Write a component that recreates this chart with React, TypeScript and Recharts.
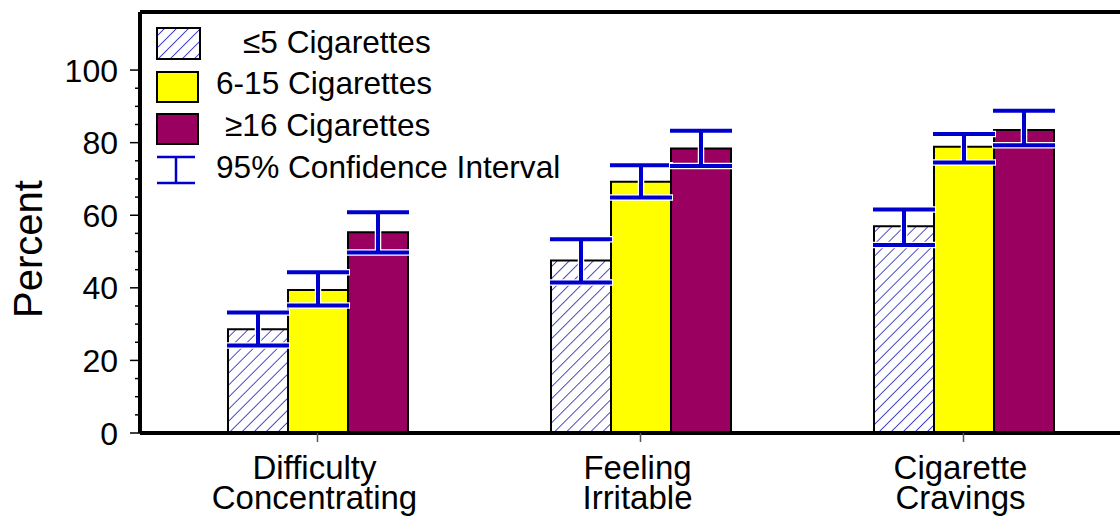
import { BarChart, Bar, XAxis, YAxis, ErrorBar, ReferenceLine, Legend } from 'recharts';

const categories = ['Difficulty Concentrating', 'Feeling Irritable', 'Cigarette Cravings'];
const seriesNames = ['≤5 Cigarettes', '6-15 Cigarettes', '≥16 Cigarettes'];

// percent values per group
const light = [28.6, 47.5, 57.0];
const medium = [39.4, 69.2, 78.9];
const heavy = [55.3, 78.4, 83.5];

// 95% confidence interval bounds
const lightLow = [24.1, 41.5, 51.8];
const lightHigh = [33.2, 53.4, 61.6];
const mediumLow = [35.1, 64.9, 74.5];
const mediumHigh = [44.3, 73.8, 82.4];
const heavyLow = [49.7, 73.6, 79.3];
const heavyHigh = [60.8, 83.3, 88.8];

const yTicks = [0, 5, 10, 15, 20, 25, 30, 35, 40, 45, 50, 55, 60, 65, 70, 75, 80, 85, 90, 95, 100];
const yLabels = [0, 20, 40, 60, 80, 100];

const COLORS = ['url(#hatch)', '#FFFF00', '#990060'];
const CI_BLUE = '#0000CC';
const FONT = '"Liberation Sans", Arial, sans-serif';

const data = categories.map((name, i) => ({
  name,
  light: light[i],
  medium: medium[i],
  heavy: heavy[i],
  lightErr: [light[i] - lightLow[i], lightHigh[i] - light[i]],
  mediumErr: [medium[i] - mediumLow[i], mediumHigh[i] - medium[i]],
  heavyErr: [heavy[i] - heavyLow[i], heavyHigh[i] - heavy[i]],
}));

const YTick = (props: any) => {
  const { x, y, payload } = props;
  const axisX = x + 14;
  const major = yLabels.includes(payload.value);
  return (
    <g>
      <line x1={axisX - (major ? 10 : 5)} x2={axisX} y1={y} y2={y} stroke="#000" strokeWidth={1.5} />
      {major && (
        <text x={axisX - 22} y={y} dy="0.36em" textAnchor="end" fontSize={32} fontFamily={FONT} fill="#000">
          {payload.value}
        </text>
      )}
    </g>
  );
};

const XTick = (props: any) => {
  const { x, y, payload } = props;
  const words = String(payload.value).split(' ');
  return (
    <text x={x - 3} y={y} textAnchor="middle" fontSize={33} fontFamily={FONT} fill="#000">
      <tspan x={x - 3} dy={35}>{words[0]}</tspan>
      <tspan x={x - 3} dy={30}>{words[1]}</tspan>
    </text>
  );
};

const LegendBox = () => (
  <svg width={600} height={200} style={{ display: 'block' }}>
    <rect x={157} y={28} width={43} height={31} fill="url(#hatch)" stroke="#000" strokeWidth={2} />
    <rect x={157} y={72} width={41} height={30} fill={COLORS[1]} stroke="#000" strokeWidth={2} />
    <rect x={157} y={114} width={41} height={30} fill={COLORS[2]} stroke="#000" strokeWidth={2} />
    <line x1={157} x2={195} y1={157} y2={157} stroke={CI_BLUE} strokeWidth={2.5} />
    <line x1={157} x2={195} y1={183} y2={183} stroke={CI_BLUE} strokeWidth={2.5} />
    <line x1={176} x2={176} y1={157} y2={183} stroke={CI_BLUE} strokeWidth={2.5} />
    <g fontSize={31.6} fontFamily={FONT} fill="#000">
      <text x={243} y={53}>{seriesNames[0]}</text>
      <text x={216} y={94}>{seriesNames[1]}</text>
      <text x={225} y={136}>{seriesNames[2]}</text>
      <text x={216} y={178}>95% Confidence Interval</text>
    </g>
  </svg>
);

const PercentLabel = () => (
  <text
    x={28}
    y={249}
    transform="rotate(-90, 28, 249)"
    textAnchor="middle"
    dy="0.36em"
    fontSize={40}
    fontFamily={FONT}
    fill="#000"
  >
    Percent
  </text>
);

const series = [
  { key: 'light', err: 'lightErr' },
  { key: 'medium', err: 'mediumErr' },
  { key: 'heavy', err: 'heavyErr' },
];

export default function App() {
  return (
    <div style={{ position: 'absolute', left: 0, top: 0, width: 1120, height: 517, overflow: 'hidden', background: '#fff' }}>
      <BarChart
        width={1125}
        height={517}
        data={data}
        margin={{ top: 12, right: 0, bottom: 0, left: 0 }}
        barGap={0}
        barSize={60}
      >
        <defs>
          <pattern id="hatch" patternUnits="userSpaceOnUse" width={8.5} height={8.5} patternTransform="rotate(45)">
            <rect width={8.5} height={8.5} fill="#fff" />
            <line x1={0} y1={0} x2={0} y2={8.5} stroke="#2B2BC8" strokeWidth={1.7} />
          </pattern>
        </defs>
        <XAxis
          dataKey="name"
          height={84}
          padding={{ left: 16, right: 0 }}
          axisLine={{ stroke: '#000', strokeWidth: 4 }}
          tickLine={{ stroke: '#555', strokeWidth: 1.5 }}
          tickSize={9}
          tickMargin={2}
          tick={<XTick />}
          interval={0}
        />
        <YAxis
          type="number"
          domain={[0, 116]}
          ticks={yTicks}
          width={140}
          interval={0}
          axisLine={{ stroke: '#000', strokeWidth: 4 }}
          tickLine={false}
          tickSize={8}
          tickMargin={6}
          tick={<YTick />}
          label={<PercentLabel />}
        />
        <ReferenceLine y={116} stroke="#000" strokeWidth={4} />
        {series.map((s, i) => (
          <Bar key={s.key} dataKey={s.key} fill={COLORS[i]} stroke="#000" strokeWidth={2} isAnimationActive={false}>
            <ErrorBar dataKey={s.err} width={32} stroke="#fff" strokeWidth={6.5} isAnimationActive={false} />
            <ErrorBar dataKey={s.err} width={31} stroke={CI_BLUE} strokeWidth={4} isAnimationActive={false} />
          </Bar>
        ))}
        <Legend
          layout="horizontal"
          verticalAlign="middle"
          align="center"
          wrapperStyle={{ left: 0, top: 0, width: 600, height: 200 }}
          content={() => <LegendBox />}
        />
      </BarChart>
    </div>
  );
}
